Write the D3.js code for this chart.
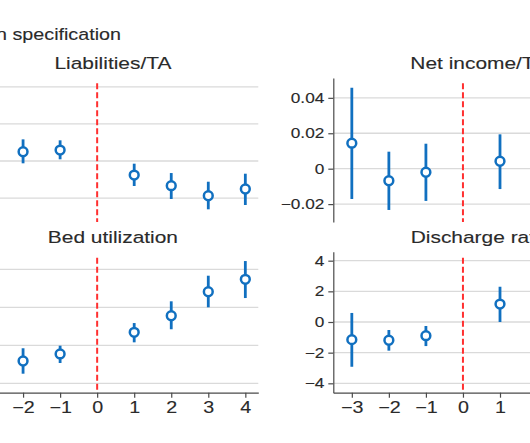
<!DOCTYPE html>
<html><head><meta charset="utf-8">
<script src="https://cdn.jsdelivr.net/npm/d3@7"></script>
<style>body{margin:0;background:#fff;overflow:hidden}svg{display:block}</style>
</head><body>
<script>
// ---- data ----
const mainTitle = "Main specification";
const panelTitles = ["Liabilities/TA", "Net income/TA", "Bed utilization", "Discharge rate"];
const xTickLabels = [-3, -2, -1, 0, 1, 2, 3, 4];

// Liabilities/TA (left, top)
const liabT = [-2, -1, 1, 2, 3, 4];
const liabEst = [0.0125, 0.0148, -0.0189, -0.0333, -0.0468, -0.0377];
const liabLo  = [-0.0031, 0.0023, -0.0337, -0.0512, -0.0651, -0.0593];
const liabHi  = [0.0292, 0.0279, -0.0036, -0.0162, -0.0279, -0.0171];
const liabTicks = [-0.05, 0, 0.05, 0.1];

// Net income/TA (right, top)
const niT = [-3, -2, -1, 1];
const niEst = [0.0144, -0.0068, -0.0020, 0.0042];
const niLo  = [-0.0171, -0.0233, -0.0182, -0.0115];
const niHi  = [0.0457, 0.0096, 0.0141, 0.0194];
const niTicks = [-0.02, 0, 0.02, 0.04];

// Bed utilization (left, bottom)
const bedT = [-2, -1, 1, 2, 3, 4];
const bedEst = [-0.0207, -0.0114, 0.0171, 0.0389, 0.0705, 0.0868];
const bedLo  = [-0.0374, -0.0233, 0.0039, 0.0211, 0.0500, 0.0622];
const bedHi  = [-0.0039, -0.0005, 0.0293, 0.0579, 0.0916, 0.1109];
const bedTicks = [-0.05, 0, 0.05, 0.1];

// Discharge rate (right, bottom)
const dcT = [-3, -2, -1, 1];
const dcEst = [-1.15, -1.19, -0.89, 1.17];
const dcLo  = [-2.92, -1.87, -1.57, 0.0];
const dcHi  = [0.59, -0.52, -0.26, 2.30];
const dcTicks = [-4, -2, 0, 2, 4];

// ---- layout ----
const W = 530, H = 443;
const SX = 1.23; // horizontal text stretch
const FONT = "Liberation Sans, Arial, Helvetica, sans-serif";
const blue = "#1170c0", red = "#ff3030", grid = "#dadada", axisC = "#4a4a4a", txt = "#2a2a2a";
const svg = d3.select("body").append("svg").attr("width", W).attr("height", H);

const xLeft = d3.scaleLinear().domain([-3.5, 4.35]).range([-32.5, 258.3]);
const xRight = d3.scaleLinear().domain([-3.5, 4.35]).range([333.3, 624.1]);
const topY = [222, 78], botY = [392.7, 251.7];

const minus = s => s.replace("-", "\u2212");
const panels = [
  {title: panelTitles[0], x: xLeft, y: d3.scaleLinear().domain([-0.0822, 0.1119]).range(topY), t: liabT, est: liabEst, lo: liabLo, hi: liabHi, ticks: liabTicks, fmt: d => minus(d3.format("~g")(d)), xaxis: false, redTop: 83.3},
  {title: panelTitles[1], x: xRight, y: d3.scaleLinear().domain([-0.0301, 0.0512]).range(topY), t: niT, est: niEst, lo: niLo, hi: niHi, ticks: niTicks, fmt: d => d === 0 ? "0" : minus(d3.format(".2f")(d)), xaxis: false, redTop: 83.3},
  {title: panelTitles[2], x: xLeft, y: d3.scaleLinear().domain([-0.0624, 0.1232]).range(botY), t: bedT, est: bedEst, lo: bedLo, hi: bedHi, ticks: bedTicks, fmt: d => minus(d3.format("~g")(d)), xaxis: true, redTop: 257.7},
  {title: panelTitles[3], x: xRight, y: d3.scaleLinear().domain([-4.612, 4.586]).range(botY), t: dcT, est: dcEst, lo: dcLo, hi: dcHi, ticks: dcTicks, fmt: d => minus(String(d)), xaxis: true, redTop: 257.7}
];

function styleText(sel, size){
  sel.attr("font-family", FONT).attr("font-size", size).attr("fill", txt)
     .attr("stroke", txt).attr("stroke-width", 0.12);
}
function stretchText(sel){
  sel.each(function(){
    const t = d3.select(this);
    const x = +t.attr("x") || 0;
    t.attr("x", x / SX).attr("transform", `scale(${SX},1)`);
  });
}

// main title
svg.append("text").attr("transform", `translate(121,39.5) scale(1.16,1)`)
  .attr("text-anchor", "end").call(styleText, 17).text(mainTitle);

panels.forEach(p => {
  const g = svg.append("g");
  const [x0, x1] = p.x.range();
  const [yb] = p.y.range();
  const cx = (x0 + x1) / 2;
  g.append("text").attr("transform", `translate(${cx},${p.xaxis ? 242.5 : 69}) scale(${SX},1)`)
    .attr("text-anchor", "middle").call(styleText, 17).text(p.title);
  // gridlines
  g.selectAll(".grid").data(p.ticks).join("line")
    .attr("x1", x0).attr("x2", x1).attr("y1", d => p.y(d)).attr("y2", d => p.y(d))
    .attr("stroke", grid).attr("stroke-width", 1.3);
  // y axis
  const ya = g.append("g").attr("transform", `translate(${x0},0)`)
    .call(d3.axisLeft(p.y).tickValues(p.ticks).tickFormat(p.fmt).tickSize(5).tickPadding(4).tickSizeOuter(0));
  ya.select(".domain").attr("stroke", axisC).attr("stroke-width", 1.2);
  ya.selectAll(".tick line").attr("stroke", axisC).attr("stroke-width", 1.2);
  ya.selectAll("text").call(styleText, 14).call(stretchText);
  // x axis
  if (p.xaxis) {
    const xa = g.append("g").attr("transform", `translate(0,${yb})`)
      .call(d3.axisBottom(p.x).tickValues(xTickLabels).tickFormat(d => minus(String(d))).tickSize(5).tickPadding(4).tickSizeOuter(0));
    xa.select(".domain").attr("stroke", axisC).attr("stroke-width", 1.2);
    xa.selectAll(".tick line").attr("stroke", axisC).attr("stroke-width", 1.2);
    xa.selectAll("text").call(styleText, 16).call(stretchText);
  }
  // red dashed event line
  g.append("line").attr("x1", p.x(0)).attr("x2", p.x(0)).attr("y1", p.redTop).attr("y2", yb)
    .attr("stroke", red).attr("stroke-width", 2).attr("stroke-dasharray", "6,3");
  // CIs
  g.selectAll(".ci").data(p.t).join("line")
    .attr("x1", d => p.x(d)).attr("x2", d => p.x(d))
    .attr("y1", (d, i) => p.y(p.lo[i])).attr("y2", (d, i) => p.y(p.hi[i]))
    .attr("stroke", blue).attr("stroke-width", 2.8);
  // points
  g.selectAll(".pt").data(p.t).join("circle")
    .attr("cx", d => p.x(d)).attr("cy", (d, i) => p.y(p.est[i])).attr("r", 4.4)
    .attr("fill", "#fff").attr("stroke", blue).attr("stroke-width", 2.5);
});
</script>
</body></html>
